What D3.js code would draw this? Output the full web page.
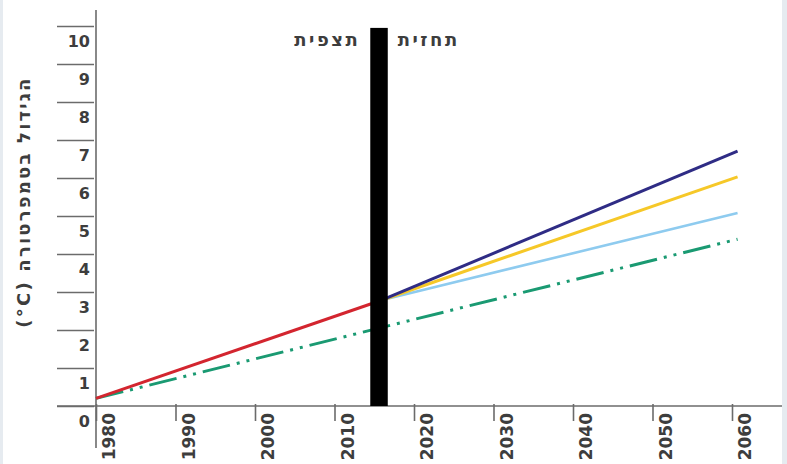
<!DOCTYPE html>
<html><head><meta charset="utf-8">
<script src="https://cdn.jsdelivr.net/npm/d3@7"></script>
<style>
html,body{margin:0;padding:0;background:#fff;}
svg{display:block;}
</style></head>
<body>
<script>
// ---- data ----
const yTicks = [0,1,2,3,4,5,6,7,8,9,10];
const xTicks = [1980,1990,2000,2010,2020,2030,2040,2050,2060];
const observedYears = [1980, 2016];
const observedValues = [0.2, 2.79];
const projectionYears = [2016, 2060.7];
const projectionHigh = [2.79, 6.71];
const projectionMidHigh = [2.79, 6.03];
const projectionMidLow = [2.79, 5.08];
const trendYears = [1980, 2060.7];
const trendValues = [0.2, 4.39];
const dividerYears = [2014.5, 2016.7];
const dividerTop = 9.95;
const labelObserved = "תצפית";
const labelForecast = "תחזית";
const yTitle = "הגידול בטמפרטורה (C°)";

const W = 787, H = 464;
const svg = d3.select("body").append("svg").attr("width", W).attr("height", H);
svg.append("rect").attr("width", W).attr("height", H).attr("fill", "#fff");
svg.append("rect").attr("x",0).attr("y",0).attr("width",3).attr("height",H).attr("fill","#e6ebf0");
svg.append("rect").attr("x",782).attr("y",0).attr("width",5).attr("height",H).attr("fill","#e6ebf0");

const x = d3.scaleLinear().domain([1980, 2060]).range([96, 732]);
const y = d3.scaleLinear().domain([0, 10]).range([406, 26]);

const font = "'DejaVu Sans', sans-serif";
const axisColor = "#6b6b6b";
const textColor = "#3d3d3d";

// y ticks (horizontal lines left of axis, label below each)
const yAxis = d3.axisLeft(y).tickValues(yTicks).tickSize(39).tickPadding(0).tickFormat(d3.format("d"));
const gy = svg.append("g").attr("transform", "translate(96,0)").call(yAxis);
gy.select(".domain").remove();
gy.selectAll(".tick line").attr("stroke", axisColor).attr("stroke-width", 1.6).attr("x2", -39).attr("x1", -2);
gy.selectAll(".tick text").attr("x", -6).attr("dy", "0.32em").attr("y", 15)
  .attr("font-family", font).attr("font-size", 16).attr("font-weight", "bold").attr("fill", textColor).attr("text-anchor","end");

// x axis
const xAxis = d3.axisBottom(x).tickValues(xTicks).tickSize(15).tickFormat(d3.format("d"));
const gx = svg.append("g").attr("transform", "translate(0,406)").call(xAxis);
gx.select(".domain").remove();
gx.selectAll(".tick line").attr("stroke", axisColor).attr("stroke-width", 1.6).attr("y1", -2);
gx.selectAll(".tick text").attr("transform", "rotate(-90)").attr("text-anchor", "end")
  .attr("x", -7).attr("y", 13).attr("dy", "0.35em")
  .attr("font-family", font).attr("font-size", 17).attr("font-weight", "bold").attr("fill", textColor);

// axis lines
svg.append("line").attr("x1", 57).attr("x2", 782).attr("y1", y(0)).attr("y2", y(0))
  .attr("stroke", axisColor).attr("stroke-width", 1.6);
svg.append("line").attr("x1", x(1980)).attr("x2", x(1980)).attr("y1", 10).attr("y2", 448)
  .attr("stroke", axisColor).attr("stroke-width", 1.6);

// y title
svg.append("text").attr("transform", "translate(30,202) rotate(-90)")
  .attr("text-anchor", "middle").attr("font-family", font).attr("font-size", 18).attr("font-weight","bold")
  .attr("letter-spacing", 2.2)
  .attr("fill", textColor).attr("direction","rtl").text(yTitle);

const line = d3.line().x(d => x(d[0])).y(d => y(d[1]));
function series(years, vals, color, width, dash) {
  const p = svg.append("path").datum(years.map((yr,i)=>[yr, vals[i]]))
    .attr("d", line).attr("fill","none").attr("stroke", color).attr("stroke-width", width);
  if (dash) p.attr("stroke-dasharray", dash);
  return p;
}
series(trendYears, trendValues, "#1a9a72", 3, "28 7 3 7 3 7");
series(projectionYears, projectionMidLow, "#8ecbef", 2.6);
series(projectionYears, projectionMidHigh, "#f6c828", 3);
series(projectionYears, projectionHigh, "#2f2c85", 3);
series(observedYears, observedValues, "#d3252f", 3);

// divider bar
svg.append("rect").attr("x", x(dividerYears[0])).attr("width", x(dividerYears[1]) - x(dividerYears[0]))
  .attr("y", y(dividerTop)).attr("height", y(0) - y(dividerTop)).attr("fill", "#000");

svg.append("text").attr("x", x(dividerYears[0]) - 10).attr("y", 40).attr("dy","0.35em")
  .attr("text-anchor","end").attr("font-family", font).attr("font-size", 18).attr("font-weight","bold")
  .attr("letter-spacing", 2.5)
  .attr("fill", textColor).text(labelObserved);
svg.append("text").attr("x", x(dividerYears[1]) + 10).attr("y", 40).attr("dy","0.35em")
  .attr("text-anchor","start").attr("font-family", font).attr("font-size", 18).attr("font-weight","bold")
  .attr("letter-spacing", 2.5)
  .attr("fill", textColor).text(labelForecast);
</script>
</body></html>
